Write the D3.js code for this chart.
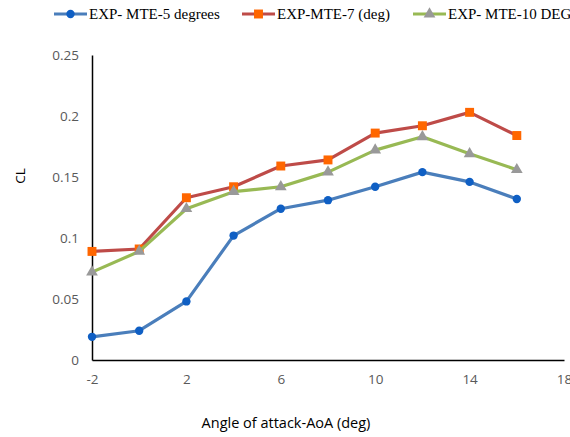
<!DOCTYPE html>
<html>
<head>
<meta charset="utf-8">
<script src="https://cdn.jsdelivr.net/npm/d3@7"></script>
<style>
  body { margin: 0; background: #fff; }
  .tick text { font-family: "Open Sans", "Liberation Sans", sans-serif; font-size: 13.5px; fill: #595959; }
</style>
</head>
<body>
<div id="chart"></div>
<script>
// angle of attack (deg)
const aoa = [-2, 0, 2, 4, 6, 8, 10, 12, 14, 16];
const mte5 = [0.019, 0.024, 0.048, 0.102, 0.124, 0.131, 0.142, 0.154, 0.146, 0.132];
const mte7 = [0.089, 0.091, 0.133, 0.142, 0.159, 0.164, 0.186, 0.192, 0.203, 0.184];
const mte10 = [0.072, 0.089, 0.124, 0.138, 0.142, 0.154, 0.172, 0.183, 0.169, 0.156];
const seriesNames = ["EXP- MTE-5 degrees", "EXP-MTE-7 (deg)", "EXP- MTE-10 DEG"];
const xTicks = [-2, 2, 6, 10, 14, 18];
const yTicks = [0, 0.05, 0.1, 0.15, 0.2, 0.25];

let width = 570,
    height = 437;

let svg = d3.select("#chart").append("svg")
  .attr("width", width)
  .attr("height", height);

let x = d3.scaleLinear().domain([-2, 18]).range([92, 564]);
let y = d3.scaleLinear().domain([0, 0.25]).range([360, 55]);

let series = [
  { name: seriesNames[0], values: mte5, line: "#4A7EBB", marker: "#0F5FC4", shape: d3.symbolCircle, size: 55 },
  { name: seriesNames[1], values: mte7, line: "#BE4B48", marker: "#FF6600", shape: d3.symbolSquare, size: 80 },
  { name: seriesNames[2], values: mte10, line: "#98B954", marker: "#999999", shape: d3.symbolTriangle, size: 60 }
];

// axes (plain hyphen for negatives, like the original)
svg.append("g")
  .attr("transform", "translate(0,360)")
  .call(d3.axisBottom(x).tickValues(xTicks).tickSize(0).tickPadding(14).tickFormat(d => String(d)))
  .call(g => g.select(".domain").attr("stroke", "#000").attr("stroke-width", 1.5));

svg.append("g")
  .attr("transform", "translate(92,0)")
  .call(d3.axisLeft(y).tickValues(yTicks).tickSize(0).tickPadding(13).tickFormat(d => String(+d.toFixed(2))))
  .call(g => g.select(".domain").attr("stroke", "#000").attr("stroke-width", 1.5));

svg.append("text")
  .attr("transform", "translate(25,176) rotate(-90)")
  .attr("text-anchor", "middle")
  .attr("font-family", "Open Sans, Liberation Sans, sans-serif")
  .attr("font-size", 13.5)
  .attr("fill", "#000")
  .text("CL");

svg.append("text")
  .attr("x", 286)
  .attr("y", 428)
  .attr("text-anchor", "middle")
  .attr("font-family", "Open Sans, Liberation Sans, sans-serif")
  .attr("font-size", 14.5)
  .attr("fill", "#000")
  .text("Angle of attack-AoA (deg)");

// lines and markers
let line = d3.line()
  .x((d, i) => x(aoa[i]))
  .y(d => y(d));

series.forEach(s => {
  svg.append("path")
    .datum(s.values)
    .attr("fill", "none")
    .attr("stroke", s.line)
    .attr("stroke-width", 3.2)
    .attr("stroke-linejoin", "round")
    .attr("d", line);

  svg.append("g")
    .selectAll("path")
    .data(s.values)
    .enter().append("path")
      .attr("transform", (d, i) => `translate(${x(aoa[i])},${y(d)})`)
      .attr("d", d3.symbol().type(s.shape).size(s.size))
      .attr("fill", s.marker);
});

// legend
let legendX = [54, 242, 413];
let legend = svg.append("g").attr("transform", "translate(0,14)");
series.forEach((s, i) => {
  let lg = legend.append("g").attr("transform", `translate(${legendX[i]},0)`);
  lg.append("line")
    .attr("x1", 0).attr("x2", 33)
    .attr("stroke", s.line)
    .attr("stroke-width", 3.2);
  lg.append("path")
    .attr("transform", "translate(16.5,0)")
    .attr("d", d3.symbol().type(s.shape).size(s.size))
    .attr("fill", s.marker);
  lg.append("text")
    .attr("x", 35)
    .attr("y", 5)
    .attr("font-family", "Liberation Serif, Times New Roman, serif")
    .attr("font-size", 15)
    .attr("fill", "#000")
    .text(s.name);
});
</script>
</body>
</html>
